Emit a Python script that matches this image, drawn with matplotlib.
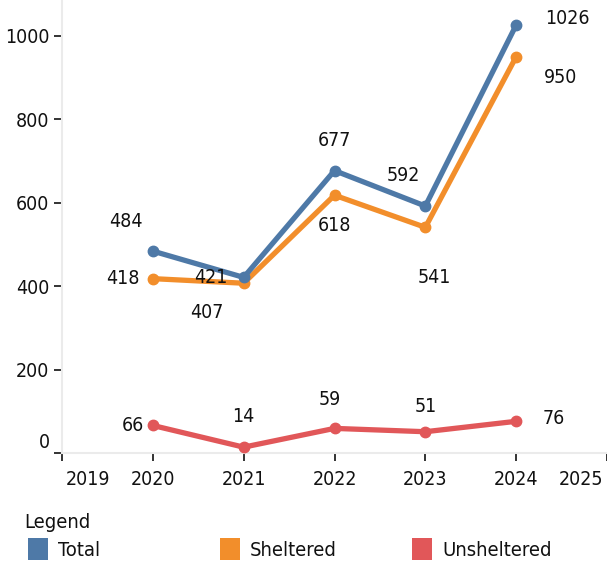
import matplotlib
matplotlib.use("Agg")
import matplotlib.pyplot as plt
import matplotlib.transforms as mtransforms

plt.rcParams["font.family"] = ["DejaVu Sans"]
plt.rcParams["font.stretch"] = "condensed"

years = [2020, 2021, 2022, 2023, 2024]
total = [484, 421, 677, 592, 1026]
sheltered = [418, 407, 618, 541, 950]
unsheltered = [66, 14, 59, 51, 76]
x_ticks = [2019, 2020, 2021, 2022, 2023, 2024, 2025]
y_ticks = [0, 200, 400, 600, 800, 1000]

series_names = ["Total", "Sheltered", "Unsheltered"]
colors = {"Total": "#4e79a7", "Sheltered": "#f28e2b", "Unsheltered": "#e15759"}

# label offsets (pixels) per point, picked to mimic the reference placement
offsets = {
    "Total": [(-27, 30), (-33, 0), (0, 30), (-22, 31), (51, 7)],
    "Sheltered": [(-30, 0), (-37, -29), (0, -30), (9, -50), (44, -21)],
    "Unsheltered": [(-20, 0), (0, 31), (-5, 29), (0, 25), (38, 3)],
}

FS = 14

fig = plt.figure(figsize=(6.07, 5.61), dpi=100)
ax = fig.add_axes([62 / 607, 108 / 561, 545 / 607, 453 / 561])

data = {"Total": total, "Sheltered": sheltered, "Unsheltered": unsheltered}
for name in ["Unsheltered", "Sheltered", "Total"]:
    vals = data[name]
    ax.plot(years, vals, color=colors[name], lw=3.8, marker="o", ms=7.5,
            solid_capstyle="round", solid_joinstyle="round", zorder=3)
    for x, v, (dx, dy) in zip(years, vals, offsets[name]):
        ax.annotate(str(v), (x, v), xytext=(dx, dy), textcoords="offset pixels",
                    ha="center", va="center", fontsize=FS, color="#111111")

ax.set_xlim(2019, 2025)
ax.set_ylim(0, 1086)
ax.set_xticks(x_ticks)
ax.set_xticklabels([str(t) for t in x_ticks])
ax.set_yticks(y_ticks)
ax.set_yticklabels([str(t) for t in y_ticks])
ax.tick_params(axis="both", labelsize=FS, colors="#111111", length=6, width=1.2)
ax.tick_params(axis="x", pad=6)
ax.tick_params(axis="y", pad=3)

for s in ["top", "right"]:
    ax.spines[s].set_visible(False)
for s in ["left", "bottom"]:
    ax.spines[s].set_color("#ebebeb")
    ax.spines[s].set_linewidth(1.5)

# edge tick labels are nudged inward like the reference
lab = ax.get_xticklabels()
lab[0].set_transform(lab[0].get_transform() + mtransforms.ScaledTranslation(26 / 100, 0, fig.dpi_scale_trans))
lab[-1].set_transform(lab[-1].get_transform() + mtransforms.ScaledTranslation(-26 / 100, 0, fig.dpi_scale_trans))
ylab = ax.get_yticklabels()
ylab[0].set_transform(ylab[0].get_transform() + mtransforms.ScaledTranslation(0, 12 / 100, fig.dpi_scale_trans))

fig.text(24 / 607, 1 - 522 / 561, "Legend", fontsize=14.5, va="center", ha="left", color="#111111")
lx = [28, 220, 412]
for px, n in zip(lx, series_names):
    fig.patches.append(plt.Rectangle((px / 607, 1 / 561), 20 / 607, 22 / 561,
                                     transform=fig.transFigure, facecolor=colors[n], edgecolor="none"))
    fig.text((px + 30) / 607, 1 - 550 / 561, n, fontsize=14.5, va="center", ha="left", color="#111111")

fig.savefig("out.png", dpi=100)
